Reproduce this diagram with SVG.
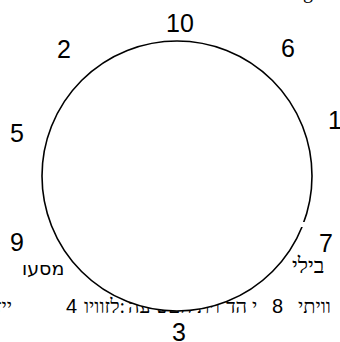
<svg xmlns="http://www.w3.org/2000/svg" width="340" height="342" viewBox="0 0 340 342">
<style>
.lbl{font-family:"Liberation Sans",Arial,sans-serif;font-size:25px;fill:#000;text-anchor:middle}
.heb{font-family:"Liberation Serif","DejaVu Serif",serif;font-size:20px;fill:#000}
.hebs{font-family:"DejaVu Sans","Noto Sans",sans-serif;font-size:19px;fill:#000}
.dig{font-family:"Liberation Sans",Arial,sans-serif;font-size:20px;fill:#000}
</style>
<rect width="340" height="342" fill="#fff"/>
<g id="background-text">
<text class="heb" x="303" y="-2">g</text>
<text class="hebs" x="22" y="275">מסעו</text>
<text class="heb" x="292" y="273" style="font-size:22px">בילי</text>
<text class="heb" x="-4" y="313">ייז</text>
<text class="dig" x="66" y="313">4</text>
<text class="heb" x="84" y="313">לזוויו:</text>
<text class="heb" x="128" y="313">ש עה</text>
<text class="heb" x="168" y="313">ויתיהם</text>
<text class="heb" x="226" y="313">י הד</text>
<text class="dig" x="272" y="313">8</text>
<text class="heb" x="298" y="313">וויתי</text>
</g>
<g id="connectors">
<circle cx="177" cy="176" r="135" fill="#fff" stroke="#000" stroke-width="1.6"/>
<rect x="297" y="222" width="8" height="5" fill="#fff"/>
</g>
<g id="labels">
<text id="n10" class="lbl" x="180" y="32">10</text>
<text id="n2" class="lbl" x="64" y="58">2</text>
<text id="n6" class="lbl" x="288" y="57">6</text>
<text id="n1" class="lbl" x="335" y="129">1</text>
<text id="n5" class="lbl" x="17" y="142">5</text>
<text id="n9" class="lbl" x="17" y="251">9</text>
<text id="n7" class="lbl" x="326" y="252">7</text>
<text id="n3" class="lbl" x="179" y="341">3</text>
</g>
</svg>
